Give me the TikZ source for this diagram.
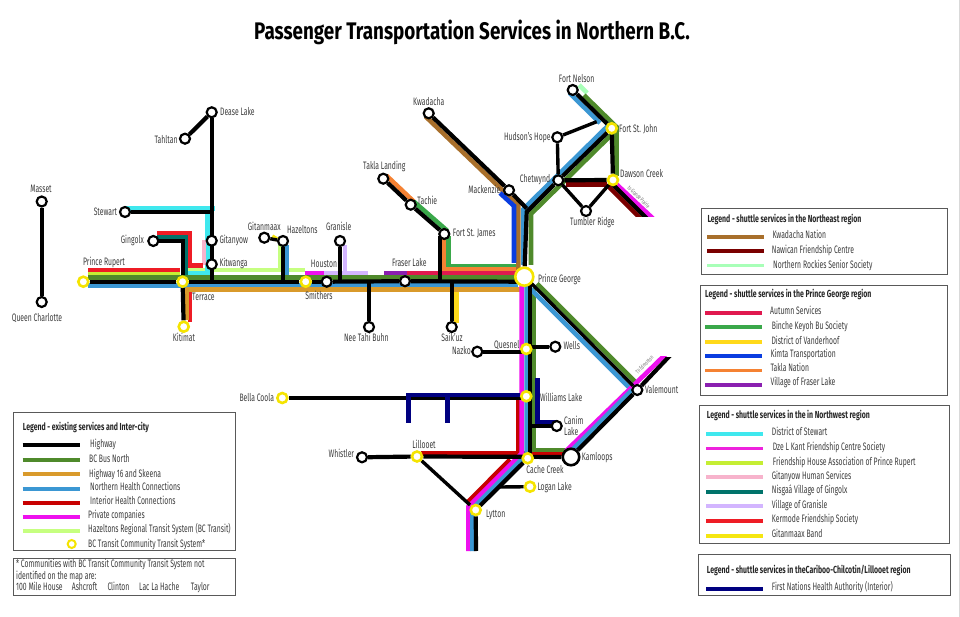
\documentclass[tikz,border=0pt]{standalone}
\usepackage{fontspec}
\setmainfont[FakeStretch=0.63]{Fira Sans}
\newfontfamily\titlefont[FakeStretch=0.785]{Fira Sans Bold}
\newfontfamily\legtitle[FakeStretch=0.68]{Fira Sans Bold}
\usetikzlibrary{calc}
\pgfdeclarelayer{bg}
\pgfsetlayers{bg,main}
\definecolor{bcbus}{HTML}{4F8A2B}
\definecolor{hsixteen}{HTML}{D99A2B}
\definecolor{nhealth}{HTML}{3B97D3}
\definecolor{ihealth}{HTML}{C80000}
\definecolor{privco}{HTML}{EE11EE}
\definecolor{hazel}{HTML}{C6FF80}
\definecolor{kwad}{HTML}{A86F2B}
\definecolor{nawican}{HTML}{7A0000}
\definecolor{nrock}{HTML}{A8FFB8}
\definecolor{autumn}{HTML}{E0194F}
\definecolor{binche}{HTML}{3AA84A}
\definecolor{vander}{HTML}{FFD91A}
\definecolor{kimta}{HTML}{0A3DE0}
\definecolor{takla}{HTML}{F58233}
\definecolor{fraser}{HTML}{8A1FB0}
\definecolor{stew}{HTML}{3FE8EE}
\definecolor{dze}{HTML}{EE22DD}
\definecolor{friend}{HTML}{C5EE33}
\definecolor{gitan}{HTML}{F7B3CC}
\definecolor{nisgaa}{HTML}{00736B}
\definecolor{gran}{HTML}{D3B5FF}
\definecolor{kermode}{HTML}{EE1C25}
\definecolor{maax}{HTML}{F5E611}
\definecolor{fnha}{HTML}{000080}
\definecolor{ringy}{HTML}{F5E400}
\definecolor{txt}{HTML}{3C3C3C}
\tikzset{
  stn/.style={circle,draw=black,fill=white,line width=2.2pt,minimum size=10pt,inner sep=0pt},
  tstn/.style={stn,draw=ringy,line width=2.6pt},
  road/.style={line width=4.2pt,draw=black,line cap=butt,line join=miter},
  thinroad/.style={road,line width=3.4pt},
  band/.style={line width=4.6pt,line cap=butt,line join=miter},
  lab/.style={font=\fontsize{10.8}{11}\selectfont,text=txt,inner sep=0pt,text height=7.4pt,text depth=2pt,yshift=-0.8pt},
  legtxt/.style={font=\fontsize{10.8}{11}\selectfont,text=txt,inner sep=0pt,anchor=west,text height=7.4pt,text depth=2pt,yshift=-0.8pt},
  legt/.style={font=\legtitle\fontsize{10.2}{11}\selectfont,text=black!85,inner sep=0pt,anchor=west},
  legbox/.style={draw=black!65,line width=1pt,fill=white},
  legline/.style={line width=3.6pt,line cap=butt},
  small/.style={font=\fontsize{6}{7}\selectfont,text=black!55,inner sep=0pt}
}
\begin{document}
\begin{tikzpicture}[x=1pt,y=-1pt]
\useasboundingbox (0,0) rectangle (960,617);
\fill[black!15] (958.5,0) rectangle (960,617);
\node[font=\titlefont\fontsize{24}{26}\selectfont,inner sep=0pt] (title) at (472,32) {Passenger Transportation Services in Northern B.C.};

% stations
\foreach \n/\x/\y in {dease/211.7/112.3,tahltan/185/138.7,stewart/125/212,gitanyow/211.7/240.7,kitwanga/211.7/264.3,gingolx/153.3/241,gitanmaax/264.3/237.7,hazeltons/283/241,houston/326.7/281.7,granisle/340/241,neetahi/369/327,fraserl/405/281.2,fsjames/444.3/234,tachie/410.7/204.7,takla/383.3/178.7,kwadacha/428.7/113.3,mackenzie/509/190.3,chetwynd/558.3/180.3,hudson/557.3/137.3,fnelson/572.7/90,tumbler/586/211,saikuz/451.7/327,wells/555.3/346.7,nazko/477.3/351.7,canim/556.7/426,valemount/637.3/390,whistler/362/457.3,masset/41.7/201.5,qcharlotte/41.7/302}
  \node[stn] (\n) at (\x,\y) {};
\foreach \n/\x/\y in {prupert/83.3/281.7,terrace/182.6/281.7,kitimat/183.7/326.7,smithers/305.7/281.7,fsjohn/611.7/128.3,dawson/613/180,quesnel/526.3/349,williams/526.3/396.3,bella/282.3/398,lillooet/417/456.5,cache/527.7/458.3,logan/530/486.7,lytton/475.7/510}
  \node[tstn] (\n) at (\x,\y) {};
\node[tstn,minimum size=18pt] (pg) at (524.3,276.7) {};
\node[stn,minimum size=16.5pt,line width=2.6pt] (kamloops) at (571,457) {};

% free junctions
\coordinate (deasej) at (211.7,281.7);
\coordinate (stewj) at (211.7,212);
\coordinate (gingj) at (182.6,241);
\coordinate (hazj) at (283,281.7);
\coordinate (houj) at (340,281.7);
\coordinate (neej) at (369,281.7);
\coordinate (fsjt) at (440.3,236);
\coordinate (fsjj) at (440.3,281.7);
\coordinate (saikj) at (451.7,281.7);
\coordinate (pgw) at (520,281.7);
\coordinate (pgn) at (526.7,212);
\coordinate (mj) at (526.7,208.5);
\coordinate (hhj) at (596.7,121.7);
\coordinate (nazkoj) at (526.3,351.7);
\coordinate (wellsj) at (526.3,346.7);
\coordinate (bellaj) at (526.3,398);
\coordinate (canimj) at (530,426);
\coordinate (loganj) at (500,487);
\coordinate (llj) at (470,505);
\coordinate (dstart) at (611.7,183.3);
\coordinate (grande) at (650,221.6);
\coordinate (edm) at (670.5,355);
\coordinate (bottom) at (476,551);
\coordinate (pgt) at (530,282);
\coordinate (cachej) at (530,457);

\begin{pgfonlayer}{bg}
% west trunk bands
\draw[band,kermode] (88,270) -- (180,270);
\draw[band,friend] (88,274) -- (180,274);
\draw[band,hazel] (188,270) -- (305,270);
\draw[band,stew] (125,208.3) -- (215,208.3);
\draw[band,stew] (207.3,208.3) -- (207.3,273.3) -- (185,273.3);
\draw[band,gitan] (204,240) -- (204,265);
\draw[band,kermode] (157,233.3) -- (190,233.3) -- (190,265.7) -- (203,265.7);
\draw[band,kermode] (190,286) -- (190,322.3);
\draw[band,hsixteen] (186.5,288) -- (186.5,320);
\draw[band,nisgaa] (157,236.9) -- (186,236.9) -- (186,281);
\draw[band,hazel] (280,245) -- (280,270);
\draw[band,nhealth] (286.7,245) -- (286.7,278);
\draw[band,maax] (272,236.5) -- (277,239.5);
\draw[band,privco] (305,273.3) -- (324,273.3);
\draw[band,gran] (324,273.3) -- (345,273.3) -- (345,245);
\draw[band,gran] (345,273.3) -- (368,273.3);
\draw[band,fraser] (384,273.3) -- (407,273.3);
\draw[band,binche] (448.4,236) -- (448.4,266) -- (518,266);
\draw[band,takla] (444,238) -- (444,269.5) -- (518,269.5);
\draw[band,autumn] (407,273.3) -- (518,273.3);
\draw[band,vander] (456.7,290) -- (456.7,323);
\draw[band,bcbus] (88,277.7) -- (518,277.7);
\draw[band,nhealth] (88,285.7) -- (518,285.7);
\draw[band,hsixteen] (186,289.7) -- (521.7,289.7);
% northern bands
\draw[band,takla] (386.4,175.6) -- (413.8,201.6);
\draw[band,binche] (413.8,201.6) -- (447.4,230.9);
\draw[band,kwad] (425.6,116.5) -- (518.3,205.4) -- (518.3,270);
\draw[band,kimta] (500,193) -- (514,206) -- (514,263);
\draw[band,nhealth] (523.3,265) -- (523.3,209.2) -- (608.6,125.2);
\draw[band,bcbus] (531,265) -- (531,213.9) -- (614.8,131.4);
\draw[band,nrock] (579,85) -- (587,93);
\draw[band,bcbus] (584,95.2) -- (616.5,127) -- (616.5,176);
\draw[band,nhealth] (569.6,93.1) -- (600,123);
\draw[band,nawican] (566,184.7) -- (606.8,184.7);
\begin{scope}
  \clip (600,175) rectangle (670,216.7);
  \draw[band,nawican] (606.8,184.7) -- (644.8,222.7);
  \draw[band,privco] (613,181) -- (657,222.3);
\end{scope}
% southern bands
\draw[band,ihealth] (518.2,396) -- (518.2,453.3);
\draw[band,ihealth] (421,453.3) -- (563,453.3);
\draw[band,ihealth] (510,459.5) -- (467,503);
\draw[band,privco] (521.7,285) -- (521.7,453.3) -- (468.3,506.7) -- (468.3,551);
\draw[band,nhealth] (526.7,285) -- (526.7,454.3) -- (472.3,508.7) -- (472.3,551);
\draw[band,bcbus] (534,288) -- (534,449.8) -- (566,449.8);
\draw[band,bcbus] (537,283.7) -- (636,382.7);
\draw[band,nhealth] (530,288.4) -- (632,390.4);
\draw[band,fnha] (537.3,378) -- (537.3,422.7) -- (556,422.7);
\begin{scope}
  \clip (555,356.7) rectangle (680,470);
  \draw[band,privco] (566,451) -- (669,351);
\end{scope}
\draw[band,nhealth] (571,451) -- (632,390);
% black network
\draw[road] (dease) -- (tahltan);
\draw[road] (dease) -- (deasej);
\draw[road] (stewart) -- (stewj);
\draw[road] (gingolx) -- (gingj) -- (terrace);
\draw[road] (terrace) -- (kitimat);
\draw[road] (prupert) -- (terrace);
\draw[road] (terrace) -- (smithers);
\draw[road] (smithers) -- (houston);
\draw[road] (houston) -- (fraserl);
\draw[road] (fraserl) -- (pgw);
\draw[thinroad] (gitanmaax) -- (hazeltons);
\draw[road] (hazeltons) -- (hazj);
\draw[road] (granisle) -- (houj);
\draw[road] (neej) -- (neetahi);
\draw[road] (takla) -- (tachie);
\draw[road] (tachie) -- (fsjames);
\draw[road] (fsjt) -- (fsjj);
\draw[road] (saikj) -- (saikuz);
\draw[road] (kwadacha) -- (mackenzie);
\draw[road] (mackenzie) -- (mj);
\draw[road] (pg) -- (pgn) -- (chetwynd);
\draw[road] (chetwynd) -- (fsjohn);
\draw[road] (fnelson) -- (fsjohn);
\draw[road] (fsjohn) -- (dawson);
\draw[road] (chetwynd) -- (dawson);
\draw[thinroad] (chetwynd) -- (hudson);
\draw[thinroad] (hudson) -- (hhj);
\draw[thinroad] (chetwynd) -- (tumbler);
\draw[thinroad] (tumbler) -- (dawson);
\begin{scope}
  \clip (600,175) rectangle (670,216.7);
  \draw[road] (dstart) -- (grande);
\end{scope}
\draw[road] (kamloops) -- (valemount);
\begin{scope}
  \clip (630,357) rectangle (680,400);
  \draw[road] (valemount) -- (edm);
\end{scope}
\draw[thinroad] (pgt) -- (valemount);
\draw[road] (pgt) -- (cachej);
\draw[road] (nazko) -- (nazkoj);
\draw[road] (wellsj) -- (wells);
\draw[road] (bella) -- (bellaj);
\draw[road] (canimj) -- (canim);
\draw[road] (whistler) -- (lillooet);
\draw[road] (lillooet) -- (kamloops);
\draw[road] (cache) -- (lytton);
\draw[road] (lytton) -- (bottom);
\draw[thinroad] (lillooet) -- (llj);
\draw[thinroad] (loganj) -- (logan);
\draw[road] (masset) -- (qcharlotte);
% navy over the Bella Coola road
\draw[band,fnha] (406,395) -- (520,395);
\draw[band,fnha] (408.3,395) -- (408.3,422.7);
\draw[band,fnha] (447.3,395) -- (447.3,422.7);
\end{pgfonlayer}

% labels
\foreach \n/\a/\x/\y/\t in {l1/west/220/111.7/Dease Lake,l2/east/177.7/140/Tahltan,l3/east/117.3/212/Stewart,l4/east/144/239.7/Gingolx,l5/west/219.3/240/Gitanyow,l6/west/219.3/262.7/Kitwanga,l7/center/104/262/Prince Rupert,l8/west/192/297/Terrace,l9/center/184/338/Kitimat,l10/center/264.3/226.7/Gitanmaax,l11/center/302.3/230/Hazeltons,l12/center/338.7/227.3/Granisle,l13/center/324/263.7/Houston,l14/center/319/296/Smithers,l15/center/366.3/337.7/Nee Tahi Buhn,l16/center/384.3/166/Takla Landing,l17/center/427.3/200.7/Tachie,l18/west/452.7/233/Fort St. James,l19/center/409.3/262.7/Fraser Lake,l20/center/428.7/102.3/Kwadacha,l21/center/484.3/190.3/Mackenzie,l22/center/535/179.3/Chetwynd,l23/center/527.3/137/Hudson's Hope,l24/west/619/129/Fort St. John,l25/center/576.7/79.3/Fort Nelson,l26/west/620/174.3/Dawson Creek,l27/center/592.3/222.3/Tumbler Ridge,l28/west/538/278.7/Prince George,l29/center/452/338.3/Saik'uz,l30/center/506.7/344.7/Quesnel,l31/west/563.3/346/Wells,l32/east/471/351/Nazko,l33/west/540/397.7/Williams Lake,l34/east/274.3/397.7/Bella Coola,l35/west/564/420.7/Canim,l36/west/564/432/Lake,l37/west/645/390/Valemount,l38/west/581.7/457/Kamloops,l39/center/545/469.7/Cache Creek,l40/west/537.3/486.7/Logan Lake,l41/west/486/513.7/Lytton,l42/center/424/444.7/Lillooet,l43/east/354.3/454.3/Whistler,l44/center/41/189/Masset,l45/center/37/318/Queen Charlotte}
  \node[lab,anchor=\a] (\n) at (\x,\y) {\t};
\node[small,rotate=45] (toedm) at (644.5,364.5) {To Edmonton};
\node[small,rotate=-45] (togp) at (639,197) {to Grande Prairie};

% legend boxes
\draw[legbox] (13.3,412.3) rectangle (235,550);
\draw[legbox] (13.3,558) rectangle (235,595);
\draw[legbox] (701.7,208.3) rectangle (947.7,274.3);
\draw[legbox] (700,285.3) rectangle (947.7,395);
\draw[legbox] (699.3,405.7) rectangle (949.3,543.7);
\draw[legbox] (698.7,554.7) rectangle (950,595.3);

\node[legt] (t1) at (22.7,427.7) {Legend - existing services and Inter-city};
\node[legt] (t2) at (707.3,219) {Legend - shuttle services in the Northeast region};
\node[legt] (t3) at (705,294.7) {Legend - shuttle services in the Prince George region};
\node[legt] (t4) at (706.7,415.7) {Legend - shuttle services in the in Northwest region};
\node[legt] (t5) at (706.7,570) {Legend - shuttle services in theCariboo-Chilcotin/Lillooet region};

\foreach \i/\c/\yl/\xt/\yt/\t in {a/black/445/90/444/Highway,b/bcbus/459.7/89/458.7/BC Bus North,c/hsixteen/474/89/473.7/Highway 16 and Skeena,d/nhealth/489/90/486.7/Northern Health Connections,e/ihealth/503/90/500.7/Interior Health Connections,f/privco/517/88/515/Private companies,g/hazel/531/88/528.7/Hazeltons Regional Transit System (BC Transit)}{
  \draw[legline,\c] (22.7,\yl) -- (80,\yl);
  \node[legtxt] (lega\i) at (\xt,\yt) {\t};
}
\node[tstn,minimum size=8pt,line width=2pt] (legring) at (71.7,544) {};
\node[legtxt] (legah) at (88,544) {BC Transit Community Transit System*};

\node[legtxt] (n1) at (16,564.3) {* Communities with BC Transit Community Transit System not};
\node[legtxt] (n2) at (16,575.7) {identified on the map are:};
\foreach \i/\x/\t in {3/16/100 Mile House,4/71.7/Ashcroft,5/107.3/Clinton,6/139/Lac La Hache,7/190.7/Taylor}
  \node[legtxt] (n\i) at (\x,587.3) {\t};

\foreach \i/\c/\yl/\xt/\yt/\t in {a/kwad/237/772.3/235/Kwadacha Nation,b/nawican/251/771.7/249.7/Nawican Friendship Centre,c/nrock/265.7/773/265/Northern Rockies Senior Society}{
  \draw[legline,\c] (707,\yl) -- (764,\yl);
  \node[legtxt] (legb\i) at (\xt,\yt) {\t};
}
\foreach \i/\c/\yl/\xt/\yt/\t in {a/autumn/313/770/311/Autumn Services,b/binche/327/771.7/326/Binche Keyoh Bu Society,c/vander/341.7/771.3/341/District of Vanderhoof,d/kimta/355.7/770.3/354/Kimta Transportation,e/takla/370.3/770.3/368/Takla Nation,f/fraser/384.7/770.3/382.3/Village of Fraser Lake}{
  \draw[legline,\c] (705,\yl) -- (762,\yl);
  \node[legtxt] (legc\i) at (\xt,\yt) {\t};
}
\foreach \i/\c/\yl/\xt/\yt/\t in {a/stew/434/771.7/432.3/District of Stewart,b/dze/448.3/772.7/447.3/Dze L Kant Friendship Centre Society,c/friend/462.7/772.7/462.3/Friendship House Association of Prince Rupert,d/gitan/477/771.7/475.7/Gitanyow Human Services,e/nisgaa/491.7/771.7/490/Nisgaá Village of Gingolx,f/gran/506/771.7/504.7/Village of Granisle,g/kermode/520.7/771.7/519.3/Kermode Friendship Society,h/maax/536/771.7/533.7/Gitanmaax Band}{
  \draw[legline,\c] (706,\yl) -- (763,\yl);
  \node[legtxt] (legd\i) at (\xt,\yt) {\t};
}
\draw[legline,fnha] (706,588.7) -- (763,588.7);
\node[legtxt] (lege) at (771.7,586.7) {First Nations Health Authority (Interior)};
\end{tikzpicture}
\end{document}
